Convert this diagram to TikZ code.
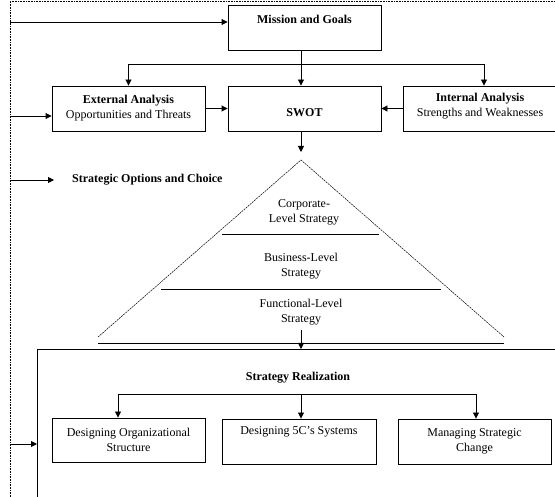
\documentclass[tikz,border=0pt]{standalone}
\usepackage{fontspec}
\setmainfont{Liberation Serif}
\usetikzlibrary{arrows.meta,calc}
\begin{document}
\begin{tikzpicture}[x=1pt,y=-1pt,
  every node/.style={font=\fontsize{12}{15}\selectfont, align=center, inner sep=0pt},
  box/.style={draw, line width=0.9pt, minimum width=153pt, minimum height=45pt},
  txt/.style={},
  btxt/.style={font=\fontsize{12}{15}\selectfont\bfseries},
  arr/.style={line width=0.9pt, -{Triangle[length=6pt,width=6pt]}},
  ln/.style={line width=0.9pt},
  tri/.style={line width=0.5pt, dash pattern=on 2pt off 0.8pt}]
\useasboundingbox (0,0) rectangle (555,497);
\clip (0,0) rectangle (555,497);
% frame
\draw[line width=0.6pt, densely dotted] (10,497) -- (10,1) -- (555,1);
% boxes
\node[box] (mission) at (304.5,27.5) {};
\node[btxt] (missiontxt) at (304.5,19) {Mission and Goals};
\node[box] (ext) at (128.5,108.5) {\textbf{External Analysis}\\Opportunities and Threats};
\node[box] (swot) at (304.5,108.5) {};
\node[btxt] (swottxt) at (304.5,113) {SWOT};
\node[box, minimum width=162pt] (int) at (484,108.5) {};
\node (inttxt) at (480,106.5) {\textbf{Internal Analysis}\\Strengths and Weaknesses};
\node[btxt, anchor=west] (soc) at (72,180) {Strategic Options and Choice};
% triangle
\coordinate (apex) at (301,160);
\coordinate (tl) at (98,337);
\coordinate (tr) at (504,337);
\draw[tri] (tl) -- (apex) -- (tr);
\coordinate (b1) at (98,343);
\coordinate (b2) at (504,343);
\draw[ln] (b1) -- (b2);
\coordinate (c1) at (222,234);
\coordinate (c2) at (379,234);
\draw[ln] (c1) -- (c2);
\coordinate (d1) at (161,289);
\coordinate (d2) at (441,289);
\draw[ln] (d1) -- (d2);
\node (corp) at (304,212.5) {Corporate-\\Level Strategy};
\node (bus) at (301,266.5) {Business-Level\\Strategy};
\node (func) at (301,312.5) {Functional-Level\\Strategy};
% realization
\node[draw, line width=0.9pt, anchor=north west, minimum width=600pt, minimum height=200pt] (big) at (37,349) {};
\node[btxt] (sr) at (298,378) {Strategy Realization};
\node[box, minimum height=44pt] (org) at (128.5,440) {Designing Organizational\\Structure};
\node[box, minimum width=154pt] (fivec) at (299,441.5) {};
\node (fivectxt) at (299,432) {Designing 5C's Systems};
\node[box] (mgmt) at (474.5,441.5) {Managing Strategic\\Change};
% left feed arrows
\coordinate (l1) at (10,22);
\coordinate (l2) at (10,116);
\coordinate (l3) at (10,180);
\coordinate (l4) at (10,444);
\draw[arr] (l1) -- (mission.west |- l1);
\draw[arr] (l2) -- (ext.west |- l2);
\draw[arr] (l3) -- ($(soc.west)+(-18,0)$);
\draw[arr] (l4) -- (big.west |- l4);
% top connectors
\coordinate (j1) at (301,64);
\draw[arr] (mission.south -| apex) -- (swot.north -| apex);
\draw[arr] (j1) -| (ext.north);
\draw[arr] (j1) -| (int.north);
\draw[arr] (ext.east) -- (swot.west);
\draw[arr] (int.west) -- (swot.east);
\draw[arr, shorten >=8pt] (swot.south -| apex) -- (apex);
\draw[arr] ($(func.south -| apex)+(0,4)$) -- (big.north -| apex);
% realization branches
\coordinate (o1) at (118,394);
\coordinate (o2) at (301,394);
\coordinate (o3) at (476,394);
\draw[ln] (o1) -- (o3);
\draw[arr] (o1) -- (o1 |- org.north);
\draw[arr] (o2) -- (o2 |- fivec.north);
\draw[arr] (o3) -- (o3 |- mgmt.north);
\end{tikzpicture}
\end{document}
